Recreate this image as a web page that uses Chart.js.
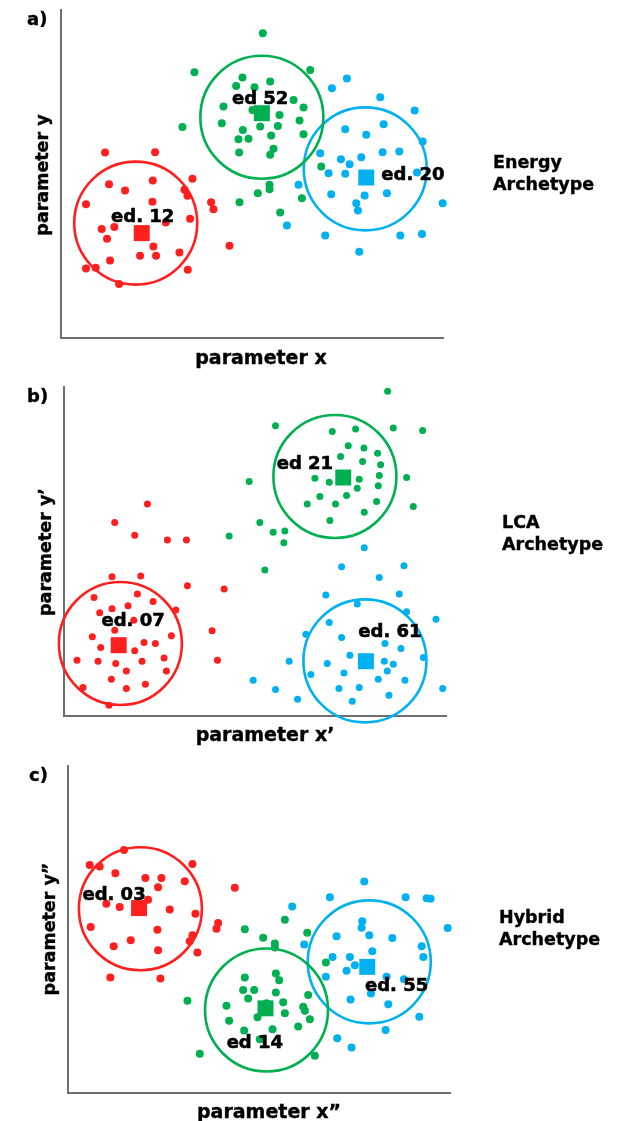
<!DOCTYPE html>
<html>
<head>
<meta charset="utf-8">
<script src="https://cdn.jsdelivr.net/npm/chart.js@4/dist/chart.umd.min.js"></script>
<style>
  body { margin: 0; background: #fff; }
  #wrap { position: relative; width: 632px; height: 1121px; overflow: hidden; font-family: 'DejaVu Sans', sans-serif; font-weight: bold; color: #000; -webkit-text-stroke: 0.4px #000; }
  canvas { position: absolute; left: 0; }
  .t { position: absolute; white-space: nowrap; transform: translate(-50%, -50%); font-size: 19px; }
  .ty { position: absolute; white-space: nowrap; transform: translate(-50%, -50%) rotate(-90deg); font-size: 17.5px; }
  .tag { position: absolute; white-space: nowrap; transform: translateY(-50%); font-size: 18px; }
  .arch { position: absolute; font-size: 17.5px; line-height: 22px; }
</style>
</head>
<body>
<div id="wrap">
  <canvas id="chart-a" width="632" height="372" style="top:0px"></canvas>
  <canvas id="chart-b" width="632" height="378" style="top:372px"></canvas>
  <canvas id="chart-c" width="632" height="371" style="top:750px"></canvas>

  <div class="tag" style="left:27px; top:18px">a)</div>
  <div class="tag" style="left:27px; top:395px">b)</div>
  <div class="tag" style="left:29px; top:774px">c)</div>

  <div class="t" style="left:261px; top:357px">parameter x</div>
  <div class="t" style="left:265px; top:734px">parameter x’</div>
  <div class="t" style="left:269px; top:1111px">parameter x”</div>

  <div class="ty" style="left:42px; top:175px">parameter y</div>
  <div class="ty" style="left:45px; top:552px">parameter y’</div>
  <div class="ty" style="left:49px; top:929px">parameter y”</div>

  <div class="arch" style="left:493px; top:151px">Energy<br>Archetype</div>
  <div class="arch" style="left:502px; top:511px">LCA<br>Archetype</div>
  <div class="arch" style="left:499px; top:906px">Hybrid<br>Archetype</div>
</div>

<script>
// colours of the three clusters
var RED = '#FF1F1F', GREEN = '#00B050', BLUE = '#00B0F0';

// ---- a) Energy archetype ----
var energyRed = [[13.2,55.7],[28.2,55.8],[14.4,46.2],[19.2,44.3],[27.5,47.3],[39.4,47.8],[37.0,44.5],[37.9,42.7],
  [7.5,40.2],[27.4,40.9],[45.0,40.8],[45.7,38.7],[12.2,32.7],[16.0,33.3],[31.4,34.7],[38.7,35.8],[13.8,29.8],
  [27.7,27.5],[23.7,24.7],[28.5,24.7],[35.5,25.7],[14.7,23.3],[50.5,27.7],[7.5,20.9],[10.4,21.1],[17.4,16.2],[38.0,20.5]];
var energyGreen = [[60.5,91.5],[40.0,79.8],[74.7,80.5],[54.4,78.2],[52.5,75.7],[62.7,77.0],[58.0,75.3],[69.7,71.5],
  [48.7,69.5],[57.4,68.5],[72.7,69.2],[65.5,67.0],[71.5,65.3],[48.2,64.5],[59.7,63.5],[65.0,63.7],[36.4,63.4],
  [54.5,62.5],[63.0,60.8],[72.7,61.2],[53.2,59.7],[56.2,59.8],[63.7,56.8],[53.4,55.7],[62.7,55.0],[78.0,51.5],
  [62.5,46.0],[62.5,44.7],[59.0,43.5],[72.2,42.0],[53.5,40.8],[65.7,37.7]];
var energyBlue = [[85.7,77.9],[81.2,75.0],[95.7,72.3],[106.0,68.3],[85.2,62.7],[96.7,64.2],[91.5,61.0],[108.4,59.0],
  [77.7,55.5],[83.9,53.7],[86.5,52.2],[90.0,54.3],[96.4,55.8],[101.4,56.0],[80.2,49.5],[85.2,49.3],[106.7,49.7],
  [71.2,46.0],[81.0,43.2],[91.0,42.8],[97.7,43.5],[88.5,40.5],[89.0,38.3],[114.4,40.5],[116.2,41.9],[67.7,33.8],
  [79.2,30.8],[101.7,30.8],[108.2,31.2],[89.4,25.9]];
var energyCentroids = [[24.2,31.5],[60.2,67.5],[91.5,48.2]];
var energyCircles = [[22.4,34.5],[60.2,66.3],[91.2,50.8]];
var energyLabels = ['ed. 12','ed 52','ed. 20'];
var energyLabelAt = [[24.5,36.3],[59.7,71.8],[105.5,49.0]];

// ---- b) LCA archetype ----
var lcaRed = [[25.0,63.5],[15.2,57.9],[21.2,54.1],[31.0,52.7],[36.7,52.7],[14.4,41.7],[23.0,41.9],[37.0,39.0],
  [48.0,38.0],[9.0,35.5],[22.0,36.5],[26.7,34.3],[10.7,30.9],[14.4,32.1],[19.2,33.0],[33.5,31.7],[20.9,28.7],
  [15.2,25.7],[32.2,24.0],[8.5,23.7],[11.0,20.5],[24.0,22.0],[27.4,21.7],[21.2,19.5],[44.4,25.5],[3.9,16.7],
  [10.2,16.4],[15.5,15.7],[23.4,16.4],[30.0,17.4],[46.0,16.7],[18.7,13.5],[30.7,13.5],[14.2,11.0],[24.4,9.5],
  [18.7,8.2],[5.7,8.5],[13.5,3.2]];
var lcaGreen = [[97.0,97.2],[63.4,86.9],[80.4,85.2],[87.4,85.9],[98.7,86.2],[107.5,85.5],[85.2,80.9],[89.9,80.2],
  [82.9,77.7],[94.0,78.7],[89.5,76.2],[94.9,75.2],[75.2,71.2],[79.5,70.0],[88.5,70.9],[94.5,72.0],[102.7,71.4],
  [55.5,70.2],[87.9,68.2],[94.2,68.9],[76.7,65.7],[84.7,66.0],[72.9,63.5],[81.4,63.5],[93.7,64.2],[104.7,62.7],
  [90.0,61.0],[79.7,58.5],[58.7,57.9],[62.7,55.0],[66.2,55.4],[65.9,51.9],[49.5,53.9],[60.2,43.7]];
var lcaBlue = [[90.0,50.4],[83.2,44.7],[101.9,45.0],[94.5,41.5],[78.5,36.2],[100.5,36.5],[87.9,33.5],[102.7,31.2],
  [111.5,29.0],[79.5,28.0],[72.5,24.5],[83.2,23.5],[96.2,21.7],[101.0,20.2],[85.7,18.2],[107.7,17.5],[67.5,16.4],
  [78.9,15.7],[96.0,16.4],[98.7,15.5],[96.9,13.5],[74.0,12.4],[83.9,12.9],[94.2,11.0],[102.2,10.7],[56.7,10.7],
  [63.4,7.9],[82.4,8.2],[88.5,8.5],[113.5,8.2],[70.0,5.0],[86.4,4.4],[97.4,6.2]];
var lcaCentroids = [[16.4,21.2],[83.7,71.4],[90.5,16.4]];
var lcaCircles = [[16.9,21.7],[81.2,71.7],[90.2,16.5]];
var lcaLabels = ['ed. 07','ed 21','ed. 61'];
var lcaLabelAt = [[20.7,28.2],[72.2,75.4],[97.7,25.0]];

// ---- c) Hybrid archetype ----
var hybridRed = [[16.8,73.2],[6.5,68.7],[9.5,68.2],[37.3,69.0],[14.2,66.2],[23.2,64.8],[28.0,64.8],[35.0,63.8],
  [27.0,62.0],[50.0,61.8],[24.0,58.2],[11.5,57.0],[15.5,56.0],[30.5,55.3],[38.2,54.0],[6.8,50.0],[26.8,49.2],
  [45.0,51.2],[44.5,49.5],[37.3,47.5],[36.5,45.7],[18.8,46.0],[13.7,44.2],[27.0,43.0],[38.8,42.3],[12.7,34.8],[27.7,34.5]];
var hybridGreen = [[65.0,52.2],[53.0,49.3],[71.7,48.3],[58.5,46.8],[62.0,45.0],[62.0,43.8],[77.3,39.3],[62.3,36.0],
  [53.0,34.8],[63.3,34.0],[52.5,31.0],[55.8,31.0],[62.3,30.3],[54.0,28.5],[72.0,29.5],[35.8,27.8],[47.5,26.3],
  [64.5,27.3],[70.5,26.0],[65.0,24.0],[71.0,24.8],[56.8,22.8],[48.3,21.8],[72.5,22.2],[69.0,20.0],[52.8,18.8],
  [61.3,19.2],[57.5,16.2],[39.5,11.8],[74.0,11.2],[59.5,27.0]];
var hybridBlue = [[88.8,63.7],[78.5,59.0],[101.2,59.0],[107.5,58.7],[108.7,58.5],[67.2,56.2],[88.2,51.7],[88.0,49.8],
  [90.3,47.5],[97.2,46.7],[80.5,47.2],[113.8,49.7],[115.7,48.3],[70.8,44.7],[106.0,44.2],[91.2,42.7],[79.3,41.0],
  [84.5,41.0],[106.5,41.0],[86.0,38.5],[83.5,36.8],[77.3,35.0],[95.5,35.0],[100.7,34.3],[90.8,30.0],[84.7,28.2],
  [96.0,26.7],[105.3,23.0],[80.7,16.5],[85.0,13.7],[95.2,19.0]];
var hybridCentroids = [[21.3,55.7],[59.2,25.5],[89.7,38.0]];
var hybridCircles = [[21.7,55.5],[59.5,25.0],[90.3,39.5]];
var hybridLabels = ['ed. 03','ed 14','ed. 55'];
var hybridLabelAt = [[13.8,59.5],[56.0,15.0],[98.5,32.2]];

var X_MAX = 114.5, Y_MAX = 98.5;

function pts(list) {
    return list.map(function(p) { return {x: p[0], y: p[1]}; });
}

// writes the "ed. NN" names next to each centroid
var edLabels = {
    id: 'edLabels',
    afterDatasetsDraw: function(chart, args, opts) {
        var ctx = chart.ctx;
        ctx.save();
        ctx.font = 'bold 18px "DejaVu Sans"';
        ctx.fillStyle = '#000';
        ctx.strokeStyle = '#000';
        ctx.lineWidth = 0.6;
        ctx.textAlign = 'center';
        ctx.textBaseline = 'middle';
        opts.texts.forEach(function(t, i) {
            var px = chart.scales.x.getPixelForValue(opts.at[i][0]);
            var py = chart.scales.y.getPixelForValue(opts.at[i][1]);
            ctx.fillText(t, px, py);
            ctx.strokeText(t, px, py);
        });
        ctx.restore();
    }
};

function renderChart(canvasId, red, green, blue, centroids, circles, labels, labelAt, dotSize, pad) {
    var colors = [RED, GREEN, BLUE];
    var datasets = [];
    [red, green, blue].forEach(function(set, i) {
        datasets.push({ data: pts(set), pointRadius: dotSize, backgroundColor: colors[i], borderWidth: 0, order: 2 });
    });
    centroids.forEach(function(c, i) {
        datasets.push({ data: pts([c]), pointStyle: 'rect', pointRadius: 11.3, backgroundColor: colors[i], borderWidth: 0, order: 1 });
    });
    circles.forEach(function(c, i) {
        datasets.push({ data: pts([c]), pointStyle: 'circle', pointRadius: 61.5, backgroundColor: 'rgba(0,0,0,0)',
            borderColor: colors[i], borderWidth: 2.6, order: 3 });
    });
    datasets.forEach(function(d) { d.clip = false; d.pointHoverRadius = d.pointRadius; });

    var axis = function(max) {
        return {
            type: 'linear', min: 0, max: max,
            grid: { display: false, drawTicks: false },
            ticks: { display: false },
            border: { display: true, color: '#6f6f6f', width: 2 }
        };
    };

    new Chart(document.getElementById(canvasId).getContext('2d'), {
        type: 'scatter',
        data: { datasets: datasets },
        options: {
            responsive: false,
            animation: false,
            events: [],
            layout: { padding: pad, autoPadding: false },
            scales: { x: axis(X_MAX), y: axis(Y_MAX) },
            plugins: {
                legend: { display: false },
                tooltip: { enabled: false },
                edLabels: { texts: labels, at: labelAt }
            }
        },
        plugins: [edLabels]
    });
}

renderChart('chart-a', energyRed, energyGreen, energyBlue, energyCentroids, energyCircles, energyLabels, energyLabelAt, 4.0,
    { left: 61, top: 10, right: 189, bottom: 34 });
renderChart('chart-b', lcaRed, lcaGreen, lcaBlue, lcaCentroids, lcaCircles, lcaLabels, lcaLabelAt, 3.5,
    { left: 64, top: 15, right: 186, bottom: 34 });
renderChart('chart-c', hybridRed, hybridGreen, hybridBlue, hybridCentroids, hybridCircles, hybridLabels, hybridLabelAt, 4.0,
    { left: 68, top: 16, right: 182, bottom: 28 });
</script>
</body>
</html>
